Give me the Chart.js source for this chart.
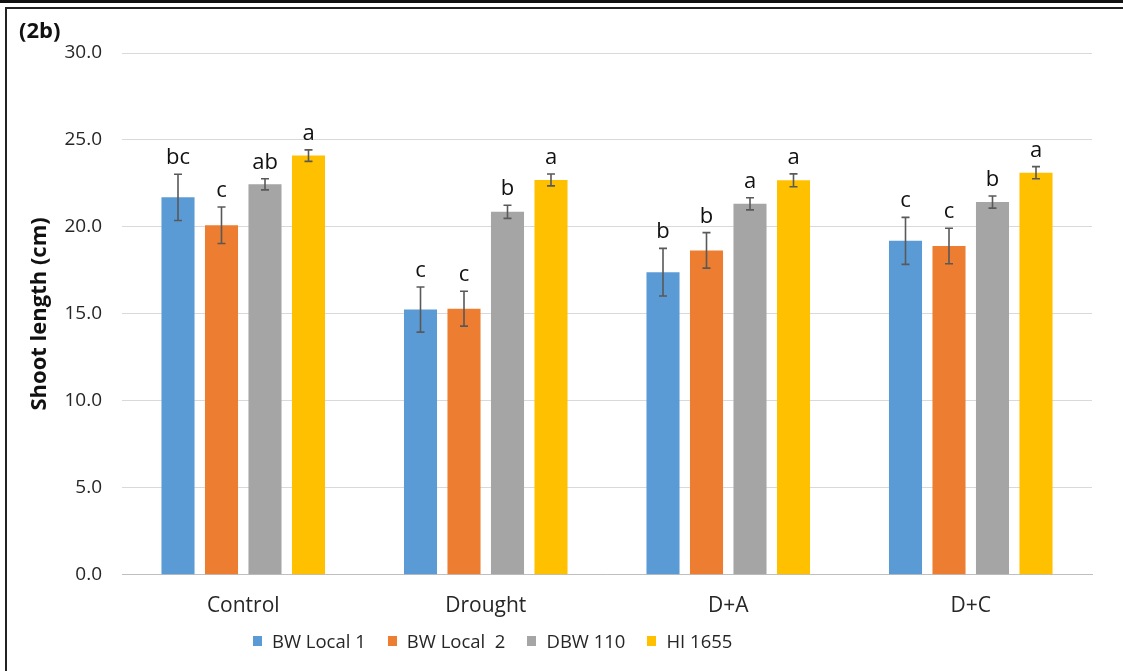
<!DOCTYPE html>
<html lang="en">
<head>
    <meta charset="UTF-8">
    <title>Shoot length (2b)</title>
    <script src="https://cdnjs.cloudflare.com/ajax/libs/Chart.js/4.4.0/chart.umd.min.js"></script>
    <style>
        html, body { margin: 0; padding: 0; background: #fff; }
        .page { position: relative; width: 1123px; height: 671px; overflow: hidden; font-family: "Open Sans", Lato, sans-serif; }
        .line-top { position: absolute; left: 0; top: 0; width: 1123px; height: 3px; background: #111; }
        .line-frame { position: absolute; left: 5px; top: 7px; width: 1130px; height: 700px; border-top: 2px solid #222; border-left: 2px solid #222; }
        .panel-label { position: absolute; left: 19px; top: 16px; font-weight: bold; font-size: 22px; line-height: 26px; color: #111; }
        #chart { position: absolute; left: 0; top: 0; }
        .legend { position: absolute; left: 253px; top: 628px; display: flex; font-size: 18.5px; line-height: 26px; color: #262626; white-space: pre; }
        .legend span.item { display: flex; align-items: center; margin-right: 22px; }
        .legend i { display: inline-block; width: 9px; height: 10px; margin-right: 10px; }
    </style>
</head>
<body>
<div class="page">
    <canvas id="chart" width="1123" height="671"></canvas>
    <div class="line-top"></div>
    <div class="line-frame"></div>
    <div class="panel-label">(2b)</div>
    <div class="legend" id="legend"></div>
</div>
<script>
    const categories = ['Control', 'Drought', 'D+A', 'D+C'];
    const seriesNames = ['BW Local 1', 'BW Local  2', 'DBW 110', 'HI 1655'];
    const colors = ['#5b9bd5', '#ed7d31', '#a5a5a5', '#ffc000'];

    // mean shoot length per genotype (cm)
    const bwLocal1 = [21.7, 15.25, 17.4, 19.2];
    const bwLocal2 = [20.1, 15.3, 18.65, 18.9];
    const dbw110 = [22.45, 20.87, 21.33, 21.43];
    const hi1655 = [24.1, 22.7, 22.68, 23.12];

    // standard error (cm)
    const errLocal1 = [1.33, 1.3, 1.37, 1.35];
    const errLocal2 = [1.05, 1.0, 1.02, 1.02];
    const errDbw = [0.32, 0.38, 0.35, 0.35];
    const errHi = [0.33, 0.34, 0.37, 0.35];

    // significance letters
    const letLocal1 = ['bc', 'c', 'b', 'c'];
    const letLocal2 = ['c', 'c', 'b', 'c'];
    const letDbw = ['ab', 'b', 'a', 'b'];
    const letHi = ['a', 'a', 'a', 'a'];

    const yTicks = [0, 5, 10, 15, 20, 25, 30];

    const values = [bwLocal1, bwLocal2, dbw110, hi1655];
    const errors = [errLocal1, errLocal2, errDbw, errHi];
    const letters = [letLocal1, letLocal2, letDbw, letHi];

    const textColor = '#262626';
    const fontFamily = '"Open Sans", Lato, sans-serif';

    // error bars + letters drawn on top of the bars
    const errorBarPlugin = {
        id: 'errorBars',
        afterDatasetsDraw(chart) {
            const ctx = chart.ctx;
            const yScale = chart.scales.y;
            ctx.save();
            chart.data.datasets.forEach((ds, i) => {
                const meta = chart.getDatasetMeta(i);
                meta.data.forEach((bar, j) => {
                    const v = ds.data[j];
                    const e = errors[i][j];
                    const yTop = yScale.getPixelForValue(v + e);
                    const yBot = yScale.getPixelForValue(v - e);
                    const x = bar.x;
                    ctx.strokeStyle = '#595959';
                    ctx.lineWidth = 1.6;
                    ctx.beginPath();
                    ctx.moveTo(x, yTop); ctx.lineTo(x, yBot);
                    ctx.moveTo(x - 4, yTop); ctx.lineTo(x + 4, yTop);
                    ctx.moveTo(x - 4, yBot); ctx.lineTo(x + 4, yBot);
                    ctx.stroke();

                    ctx.fillStyle = '#111';
                    ctx.font = '22px ' + fontFamily;
                    ctx.textAlign = 'center';
                    ctx.textBaseline = 'alphabetic';
                    ctx.fillText(letters[i][j], x, yTop - 10);
                });
            });
            ctx.restore();
        }
    };

    new Chart(document.getElementById('chart'), {
        type: 'bar',
        data: {
            labels: categories,
            datasets: values.map((vals, i) => ({
                label: seriesNames[i],
                data: vals,
                backgroundColor: colors[i],
                borderWidth: 0,
                categoryPercentage: 0.7175,
                barPercentage: 0.76
            }))
        },
        options: {
            responsive: false,
            animation: false,
            layout: { padding: { left: 0, right: 31, top: 53, bottom: 33 } },
            plugins: {
                legend: { display: false },
                tooltip: { enabled: false }
            },
            scales: {
                x: {
                    grid: { display: false, drawTicks: false },
                    border: { color: '#bfbfbf', width: 1 },
                    ticks: { color: textColor, font: { family: fontFamily, size: 21 }, padding: 19 }
                },
                y: {
                    min: 0,
                    max: 30,
                    afterBuildTicks: (scale) => { scale.ticks = yTicks.map(v => ({ value: v })); },
                    afterFit: (scale) => { scale.width = 122; },
                    grid: { color: '#d9d9d9', drawTicks: false },
                    border: { display: false },
                    ticks: {
                        color: textColor,
                        padding: 20,
                        font: { family: fontFamily, size: 19 },
                        callback: (v) => Number(v).toFixed(1)
                    },
                    title: {
                        display: true,
                        text: 'Shoot length (cm)',
                        color: '#111',
                        font: { family: fontFamily, size: 22, weight: 'bold' },
                        padding: { top: 27, bottom: 0 }
                    }
                }
            }
        },
        plugins: [errorBarPlugin]
    });

    // legend
    const legendEl = document.getElementById('legend');
    seriesNames.forEach((name, i) => {
        const item = document.createElement('span');
        item.className = 'item';
        const box = document.createElement('i');
        box.style.background = colors[i];
        item.appendChild(box);
        item.appendChild(document.createTextNode(name));
        legendEl.appendChild(item);
    });
</script>
</body>
</html>
